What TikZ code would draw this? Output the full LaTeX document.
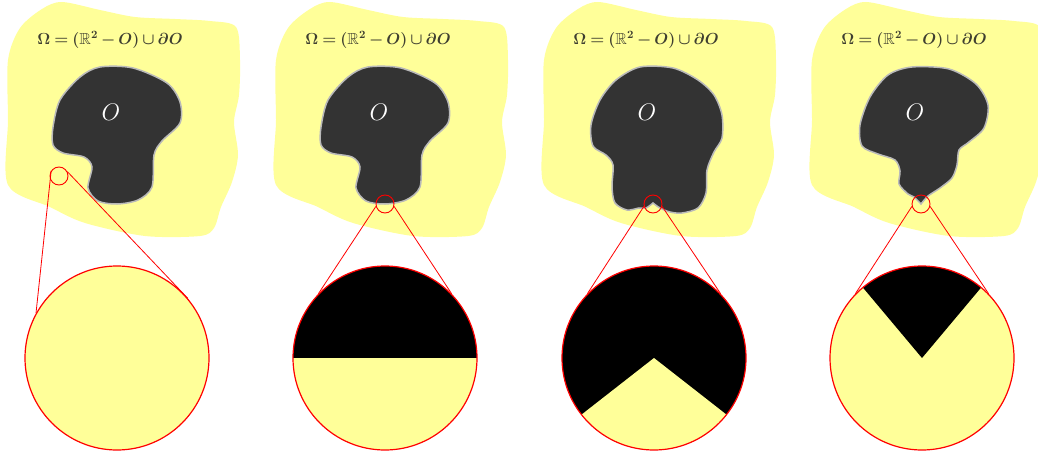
\documentclass[tikz,border=0pt]{standalone}
\usepackage{fix-cm}
\usepackage{amsmath, amssymb}
\usepackage{tikz}
\usetikzlibrary{positioning}

\definecolor{landyellow}{HTML}{FFFF99}
\definecolor{blobgray}{HTML}{333333}
\definecolor{titlegray}{HTML}{3F3F30}

\begin{document}
\begin{tikzpicture}[
    x=1pt, y=-1pt,
    formula/.style={text=titlegray, font=\fontsize{16}{18}\selectfont\boldmath},
    objlabel/.style={text=white, font=\fontsize{24}{26}\selectfont},
    blob/.style={fill=blobgray, draw=gray!55, line width=1.5pt},
    lens/.style={circle, draw=red, line width=0.9pt, minimum size=18pt, inner sep=0pt},
    zoomlens/.style={circle, draw=red, fill=landyellow, line width=1.2pt, minimum size=184pt, inner sep=0pt},
    zoomline/.style={red, line width=0.8pt}
  ]

  % tighter math spacing for the set formula
  \thickmuskip=4mu
  \medmuskip=3mu

  \useasboundingbox (0,0) rectangle (1038,457);

  % ==================== REGIONS ====================

  % yellow plane Omega, one per panel
  \foreach \dx in {0,268,536,804} {
    \fill[landyellow, xshift=\dx] plot[smooth cycle] coordinates {
      (8,60) (20,28) (42,9) (62,2) (100,10) (135,17) (175,19) (210,21) (236,27)
      (240,60) (239,95) (234,122) (238,155) (232,182) (221,207) (214,228) (200,236)
      (145,236) (85,223) (50,207) (8,185) (8,120)
    };
  }

  % obstacle O, smooth bottom (panels 1 and 2)
  \foreach \dx in {0,268} {
    \filldraw[blob, xshift=\dx] plot[smooth cycle] coordinates {
      (53,127) (60,100) (80,77) (100,67) (133,68) (167,83) (180,102) (180,123)
      (162,141) (154,155) (152,187) (138,200) (117,204) (98,201) (88,188) (92,167)
      (84,157) (63,153) (53,145)
    };
  }

  % obstacle O with a notch (panel 3)
  \filldraw[blob, xshift=536] plot[smooth] coordinates {
    (117,203) (124,208) (134,212) (146,213) (162,208) (170,193) (171,170) (178,152)
    (186,138) (186,115) (178,95) (162,80) (137,68) (104,67) (80,80) (64,100)
    (55,125) (57,146) (70,155) (77,165) (76,187) (79,203) (91,210) (103,208)
    (110,208) (117,203)
  } -- cycle;

  % obstacle O with a tip (panel 4)
  \filldraw[blob, xshift=804] plot[smooth] coordinates {
    (117,204) (124,196) (136,188) (148,178) (153,165) (155,150) (165,142) (180,128)
    (184,105) (172,84) (145,69) (108,67) (84,75) (66,97) (56,125) (58,146)
    (74,154) (91,160) (96,171) (95,184) (104,194) (110,197) (117,204)
  } -- cycle;

  % ==================== LABELS ====================

  \foreach \k/\dx in {1/0, 2/268, 3/536, 4/804} {
    \node[formula] (title\k) at (\dx+110,40) {$\Omega = (\mathbb{R}^2 - O) \cup \partial O$};
    \node[objlabel] (obj\k) at (\dx+111,112) {$O$};
  }

  % ==================== LENSES ====================

  \node[lens] (lens1) at (59,176) {};
  \node[lens] (lens2) at (385,204) {};
  \node[lens] (lens3) at (653,204) {};
  \node[lens] (lens4) at (921,204) {};

  \node[zoomlens] (zoom1) at (117,358) {};
  \node[zoomlens, path picture={
      \fill[black] ([xshift=-100pt]path picture bounding box.center)
        rectangle ([xshift=100pt, yshift=100pt]path picture bounding box.center);
    }] (zoom2) at (385,358) {};
  \node[zoomlens, path picture={
      \fill[black] (path picture bounding box.south west) rectangle (path picture bounding box.north east);
      \fill[landyellow] (path picture bounding box.center)
        -- +(218:150pt) -- +(270:200pt) -- +(322:150pt) -- cycle;
    }] (zoom3) at (654,358) {};
  \node[zoomlens, path picture={
      \fill[black] (path picture bounding box.center)
        -- +(50:150pt) -- +(90:200pt) -- +(130:150pt) -- cycle;
    }] (zoom4) at (922,358) {};

  \draw[zoomline] (lens1.146) -- (zoom1.151);
  \draw[zoomline] (lens1.27) -- (zoom1.40);
  \foreach \k in {2,3,4} {
    \draw[zoomline] (lens\k.195) -- (zoom\k.136);
    \draw[zoomline] (lens\k.345) -- (zoom\k.44);
  }

\end{tikzpicture}
\end{document}
